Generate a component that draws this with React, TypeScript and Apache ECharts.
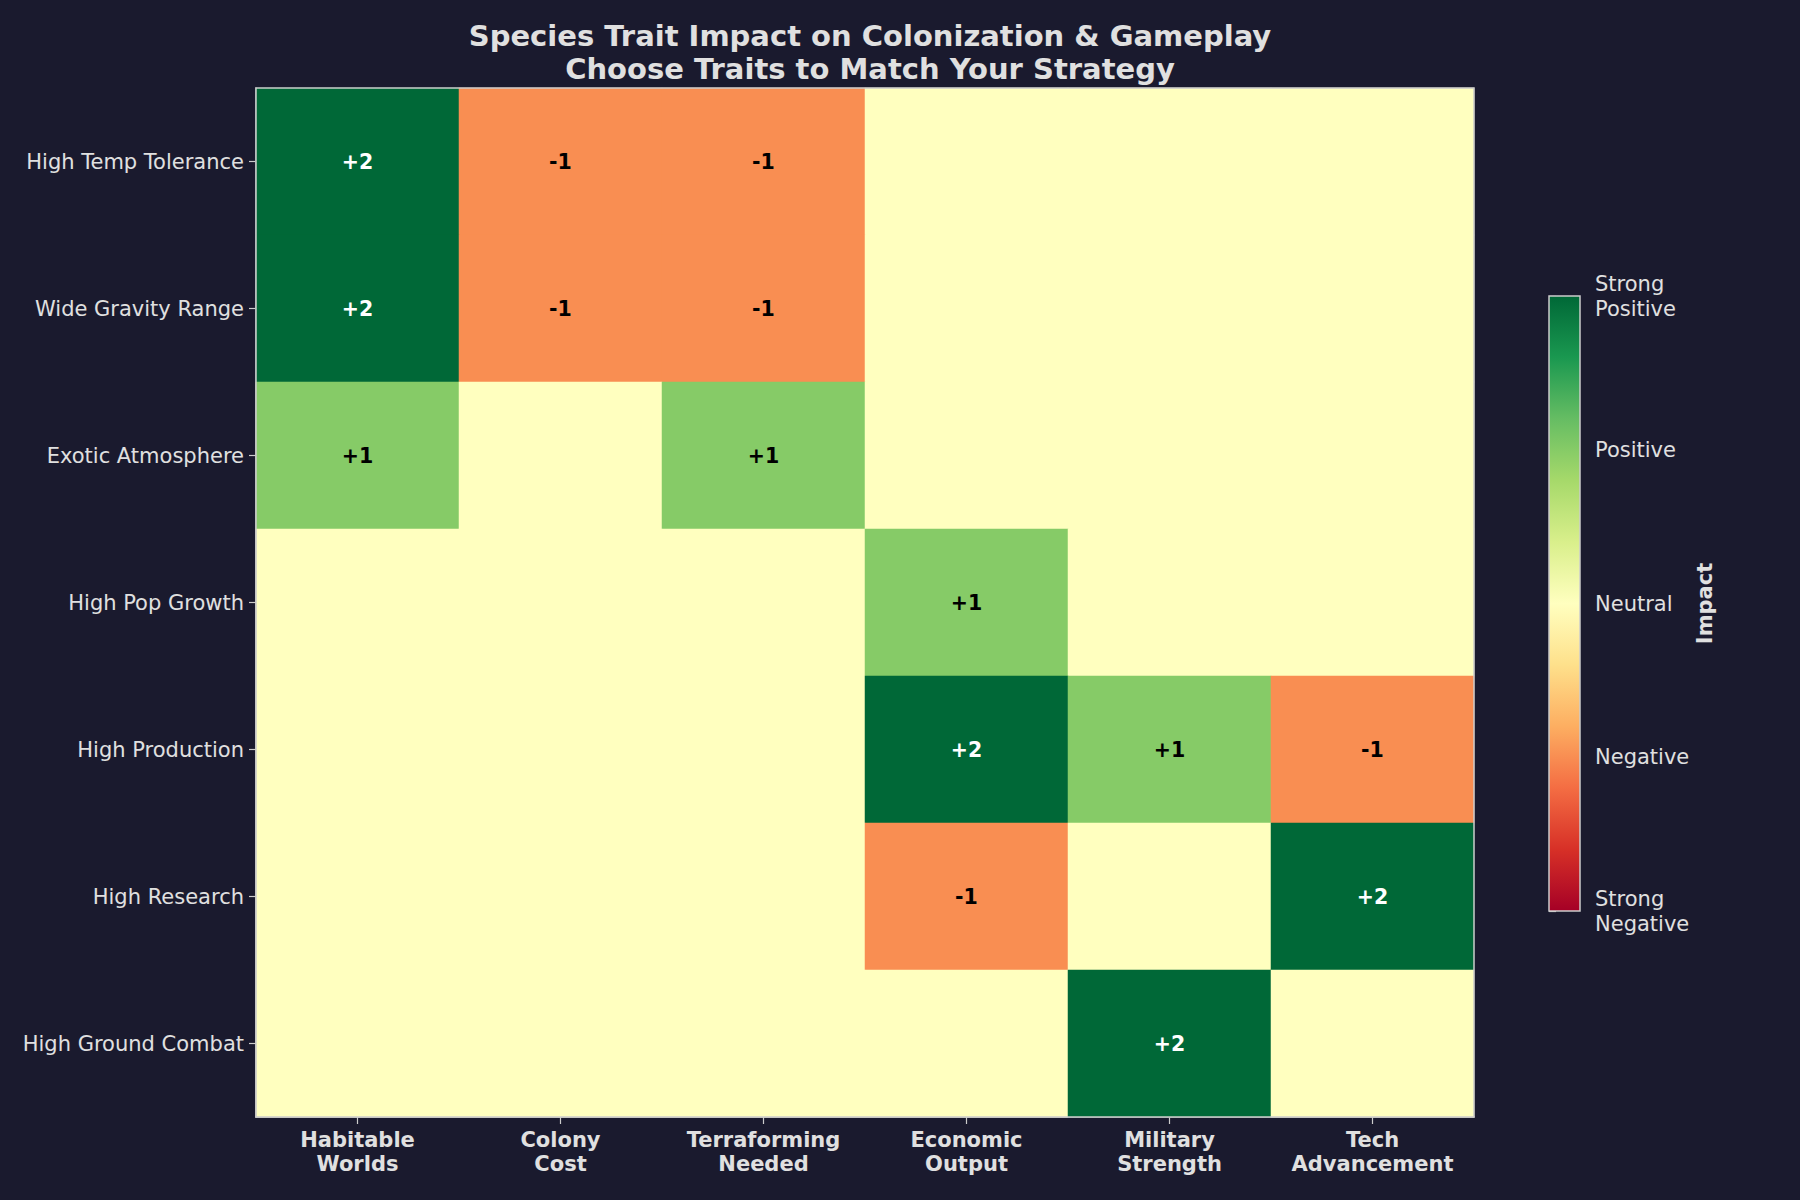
import React, { useEffect, useRef } from "react";
import * as echarts from "echarts";

const traits = [
  "High Temp Tolerance",
  "Wide Gravity Range",
  "Exotic Atmosphere",
  "High Pop Growth",
  "High Production",
  "High Research",
  "High Ground Combat",
];

const aspects = [
  "Habitable\nWorlds",
  "Colony\nCost",
  "Terraforming\nNeeded",
  "Economic\nOutput",
  "Military\nStrength",
  "Tech\nAdvancement",
];

// rows follow traits, columns follow aspects
const impact = [
  [2, -1, -1, 0, 0, 0],
  [2, -1, -1, 0, 0, 0],
  [1, 0, 1, 0, 0, 0],
  [0, 0, 0, 1, 0, 0],
  [0, 0, 0, 2, 1, -1],
  [0, 0, 0, -1, 0, 2],
  [0, 0, 0, 0, 2, 0],
];

const colorbarTicks = [-2, -1, 0, 1, 2];
const colorbarLabels = ["Strong\nNegative", "Negative", "Neutral", "Positive", "Strong\nPositive"];

const RdYlGn = [
  "#a50026", "#d73027", "#f46d43", "#fdae61", "#fee08b", "#ffffbf",
  "#d9ef8b", "#a6d96a", "#66bd63", "#1a9850", "#006837",
];

const BG = "#1a1a2e";
const TXT = "#e0e0e0";
const SPINE = "#cccccc";
const FONT = "DejaVu Sans";

export default function App() {
  const ref = useRef<HTMLDivElement>(null);

  useEffect(() => {
    if (!ref.current) return;
    const chart = echarts.init(ref.current, null, { renderer: "svg" });

    const gridL = 256, gridT = 88, gridR = 1474, gridB = 1117;
    const cbL = 1549, cbT = 296, cbW = 31, cbH = 615;

    const data: any[] = [];
    impact.forEach((row, r) => {
      row.forEach((v, c) => {
        data.push({
          value: [c, r, v],
          label: {
            color: Math.abs(v) >= 1.5 ? "#ffffff" : "#000000",
          },
        });
      });
    });

    const option: any = {
      animation: false,
      backgroundColor: BG,
      textStyle: { fontFamily: FONT },
      title: {
        text: "Species Trait Impact on Colonization & Gameplay\nChoose Traits to Match Your Strategy",
        left: 865,
        top: 14,
        textAlign: "center",
        textStyle: {
          color: TXT,
          fontSize: 29,
          fontWeight: "bold",
          fontFamily: FONT,
          lineHeight: 33,
        },
      },
      grid: [
        { left: gridL, top: gridT, width: gridR - gridL, height: gridB - gridT },
        { left: cbL, top: cbT, width: cbW, height: cbH },
      ],
      xAxis: [
        {
          type: "category",
          gridIndex: 0,
          data: aspects,
          position: "bottom",
          axisLine: { show: true, lineStyle: { color: SPINE, width: 1.5 } },
          axisTick: { show: true, alignWithLabel: true, length: 7, lineStyle: { color: SPINE, width: 1.2 } },
          axisLabel: {
            color: TXT,
            fontSize: 21,
            fontWeight: "bold",
            fontFamily: FONT,
            lineHeight: 24,
            margin: 11,
            interval: 0,
          },
          splitLine: { show: false },
        },
        {
          type: "value",
          gridIndex: 1,
          show: false,
          min: 0,
          max: 1,
        },
      ],
      yAxis: [
        {
          type: "category",
          gridIndex: 0,
          data: traits,
          inverse: true,
          axisLine: { show: true, lineStyle: { color: SPINE, width: 1.5 } },
          axisTick: { show: true, alignWithLabel: true, length: 7, lineStyle: { color: SPINE, width: 1.2 } },
          axisLabel: {
            color: TXT,
            fontSize: 21,
            fontFamily: FONT,
            margin: 12,
            interval: 0,
          },
          splitLine: { show: false },
        },
        {
          type: "value",
          gridIndex: 1,
          min: -2,
          max: 2,
          interval: 1,
          position: "right",
          axisLine: { show: false },
          axisTick: { show: true, length: 7, lineStyle: { color: SPINE, width: 1.2 } },
          axisLabel: {
            color: TXT,
            fontSize: 21,
            fontFamily: FONT,
            margin: 15,
            lineHeight: 25,
            formatter: (v: number) => {
              const i = colorbarTicks.indexOf(v);
              return i >= 0 ? colorbarLabels[i] : "";
            },
          },
          splitLine: { show: false },
        },
      ],
      visualMap: {
        show: false,
        type: "continuous",
        min: -2,
        max: 2,
        seriesIndex: 0,
        dimension: 2,
        inRange: { color: RdYlGn },
      },
      series: [
        {
          type: "heatmap",
          xAxisIndex: 0,
          yAxisIndex: 0,
          data,
          itemStyle: { borderWidth: 0 },
          label: {
            show: true,
            fontSize: 20.5,
            fontWeight: "bold",
            fontFamily: FONT,
            formatter: (p: any) => {
              const v = p.value[2];
              if (v === 0) return "";
              return v > 0 ? "+" + v : String(v);
            },
          },
          emphasis: { disabled: true },
        },
      ],
      graphic: [
        {
          type: "rect",
          z: 100,
          silent: true,
          shape: { x: gridL, y: gridT, width: gridR - gridL, height: gridB - gridT },
          style: { fill: "none", stroke: SPINE, lineWidth: 1.5 },
        },
        {
          type: "rect",
          z: 100,
          silent: true,
          shape: { x: cbL, y: cbT, width: cbW, height: cbH },
          style: {
            fill: new echarts.graphic.LinearGradient(
              0, 0, 0, 1,
              RdYlGn.slice().reverse().map((c, i) => ({ offset: i / (RdYlGn.length - 1), color: c }))
            ),
            stroke: SPINE,
            lineWidth: 1.5,
          },
        },
        {
          type: "text",
          z: 100,
          silent: true,
          x: 1705,
          y: cbT + cbH / 2,
          rotation: Math.PI / 2,
          style: {
            text: "Impact",
            fill: TXT,
            fontSize: 21,
            fontWeight: "bold",
            fontFamily: FONT,
            align: "center",
            verticalAlign: "middle",
          },
        },
      ],
    };

    chart.setOption(option);
    return () => chart.dispose();
  }, []);

  return (
    <div
      ref={ref}
      style={{ position: "fixed", left: 0, top: 0, width: 1800, height: 1200 }}
    />
  );
}
